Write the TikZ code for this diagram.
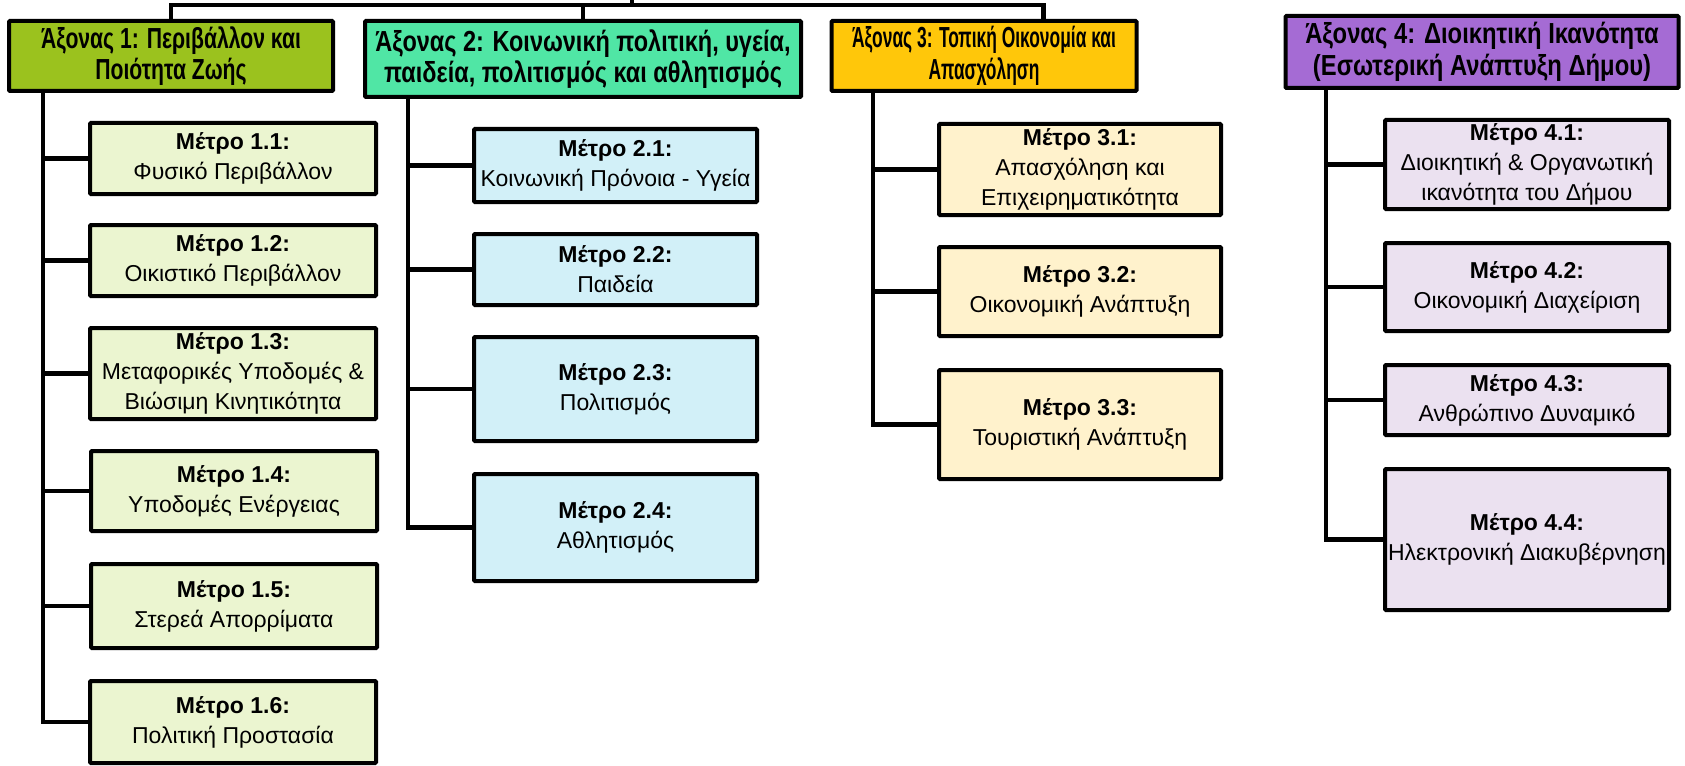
\documentclass[tikz,border=0pt]{standalone}
\usepackage{fontspec}
\setmainfont{Liberation Sans}
\newfontfamily\axonfontA[FakeStretch=0.73]{Liberation Sans}
\newfontfamily\axonfontB[FakeStretch=0.81]{Liberation Sans}
\newfontfamily\axonfontC[FakeStretch=0.60]{Liberation Sans}
\newfontfamily\axonfontD[FakeStretch=0.82]{Liberation Sans}
\usetikzlibrary{positioning}

\definecolor{axonA}{RGB}{155,194,30}
\definecolor{axonB}{RGB}{80,230,165}
\definecolor{axonC}{RGB}{255,199,10}
\definecolor{axonD}{RGB}{165,107,212}
\definecolor{metroA}{RGB}{235,245,208}
\definecolor{metroB}{RGB}{210,240,248}
\definecolor{metroC}{RGB}{255,242,204}
\definecolor{metroD}{RGB}{235,225,240}

\tikzset{
	box/.style = {draw, line width=4pt, rounded corners=1pt, align=center, inner sep=0pt},
	axon/.style = {box, font=#1\bfseries\fontsize{29}{31.5}\selectfont},
	metro/.style = {box, font=\fontsize{23}{30}\selectfont},
	metroA/.style = {metro, fill=metroA, minimum width=286pt},
	metroB/.style = {metro, fill=metroB, minimum width=283pt},
	metroC/.style = {metro, fill=metroC, minimum width=282pt},
	metroD/.style = {metro, fill=metroD, minimum width=284pt},
	link/.style = {line width=4.5pt}
}

\begin{document}
\begin{tikzpicture}[x=1pt, y=-1pt]
					\useasboundingbox (0,0) rectangle (1685,765);
					
					% axones
					\node[axon=\axonfontA, fill=axonA, minimum width=324pt, minimum height=70pt] (ax1) at (171,56) {Άξονας 1: Περιβάλλον και\\Ποιότητα Ζωής};
					\node[axon=\axonfontB, fill=axonB, minimum width=436pt, minimum height=76pt] (ax2) at (583,59) {Άξονας 2: Κοινωνική πολιτική, υγεία,\\παιδεία, πολιτισμός και αθλητισμός};
					\node[axon=\axonfontC, fill=axonC, minimum width=305pt, minimum height=70pt] (ax3) at (984,56) {Άξονας 3: Τοπική Οικονομία και\\Απασχόληση};
					\node[axon=\axonfontD, fill=axonD, minimum width=393pt, minimum height=72pt] (ax4) at (1482,52) {Άξονας 4: Διοικητική Ικανότητα\\(Εσωτερική Ανάπτυξη Δήμου)};
					
					% metra
					\node[metroA, minimum height=71pt] (m11) at (233,158.5) {\textbf{Μέτρο 1.1:}\\Φυσικό Περιβάλλον};
					\node[metroA, minimum height=71pt] (m12) at (233,260.5) {\textbf{Μέτρο 1.2:}\\Οικιστικό Περιβάλλον};
					\node[metroA, minimum height=91pt] (m13) at (233,373.5) {\textbf{Μέτρο 1.3:}\\Μεταφορικές Υποδομές \&\\Βιώσιμη Κινητικότητα};
					\node[metroA, minimum height=80pt] (m14) at (234,491) {\textbf{Μέτρο 1.4:}\\Υποδομές Ενέργειας};
					\node[metroA, minimum height=84pt] (m15) at (234,606) {\textbf{Μέτρο 1.5:}\\Στερεά Απορρίματα};
					\node[metroA, minimum height=82pt] (m16) at (233,722) {\textbf{Μέτρο 1.6:}\\Πολιτική Προστασία};
					
					\node[metroB, minimum height=73pt] (m21) at (615.5,165.5) {\textbf{Μέτρο 2.1:}\\Κοινωνική Πρόνοια - Υγεία};
					\node[metroB, minimum height=71pt] (m22) at (615.5,269.5) {\textbf{Μέτρο 2.2:}\\Παιδεία};
					\node[metroB, minimum height=104pt] (m23) at (615.5,389) {\textbf{Μέτρο 2.3:}\\Πολιτισμός};
					\node[metroB, minimum height=107pt] (m24) at (615.5,527.5) {\textbf{Μέτρο 2.4:}\\Αθλητισμός};
					
					\node[metroC, minimum height=91pt] (m31) at (1080,169.5) {\textbf{Μέτρο 3.1:}\\Απασχόληση και\\Επιχειρηματικότητα};
					\node[metroC, minimum height=89pt] (m32) at (1080,291.5) {\textbf{Μέτρο 3.2:}\\Οικονομική Ανάπτυξη};
					\node[metroC, minimum height=109pt] (m33) at (1080,424.5) {\textbf{Μέτρο 3.3:}\\Τουριστική Ανάπτυξη};
					
					\node[metroD, minimum height=89pt] (m41) at (1527,164.5) {\textbf{Μέτρο 4.1:}\\Διοικητική \& Οργανωτική\\ικανότητα του Δήμου};
					\node[metroD, minimum height=88pt] (m42) at (1527,287) {\textbf{Μέτρο 4.2:}\\Οικονομική Διαχείριση};
					\node[metroD, minimum height=70pt] (m43) at (1527,400) {\textbf{Μέτρο 4.3:}\\Ανθρώπινο Δυναμικό};
					\node[metroD, minimum height=141pt] (m44) at (1527,539.5) {\textbf{Μέτρο 4.4:}\\Ηλεκτρονική Διακυβέρνηση};
					
					% bus to the axones
					\coordinate[](bus) at (632,5) ;
					\coordinate[](root) at (632,-10) ;
					\draw[link] (ax1.north) |- (bus) -| ([xshift=59.5pt]ax3.north);
					\draw[link] (ax2.north) -- (ax2.north |- bus);
					\draw[link] (bus) -- (root);
					
					% spines
					\coordinate[](s1) at (43,0) ;
					\coordinate[](s2) at (408,0) ;
					\coordinate[](s3) at (873,0) ;
					\coordinate[](s4) at (1326,0) ;
					
					\draw[link] (ax1.south -| s1) |- (m16.west);
					\draw[link] (m11.west -| s1) -- (m11.west);
					\draw[link] (m12.west -| s1) -- (m12.west);
					\draw[link] (m13.west -| s1) -- (m13.west);
					\draw[link] (m14.west -| s1) -- (m14.west);
					\draw[link] (m15.west -| s1) -- (m15.west);
					
					\draw[link] (ax2.south -| s2) |- (m24.west);
					\draw[link] (m21.west -| s2) -- (m21.west);
					\draw[link] (m22.west -| s2) -- (m22.west);
					\draw[link] (m23.west -| s2) -- (m23.west);
					
					\draw[link] (ax3.south -| s3) |- (m33.west);
					\draw[link] (m31.west -| s3) -- (m31.west);
					\draw[link] (m32.west -| s3) -- (m32.west);
					
					\draw[link] (ax4.south -| s4) |- (m44.west);
					\draw[link] (m41.west -| s4) -- (m41.west);
					\draw[link] (m42.west -| s4) -- (m42.west);
					\draw[link] (m43.west -| s4) -- (m43.west);
\end{tikzpicture}
\end{document}
